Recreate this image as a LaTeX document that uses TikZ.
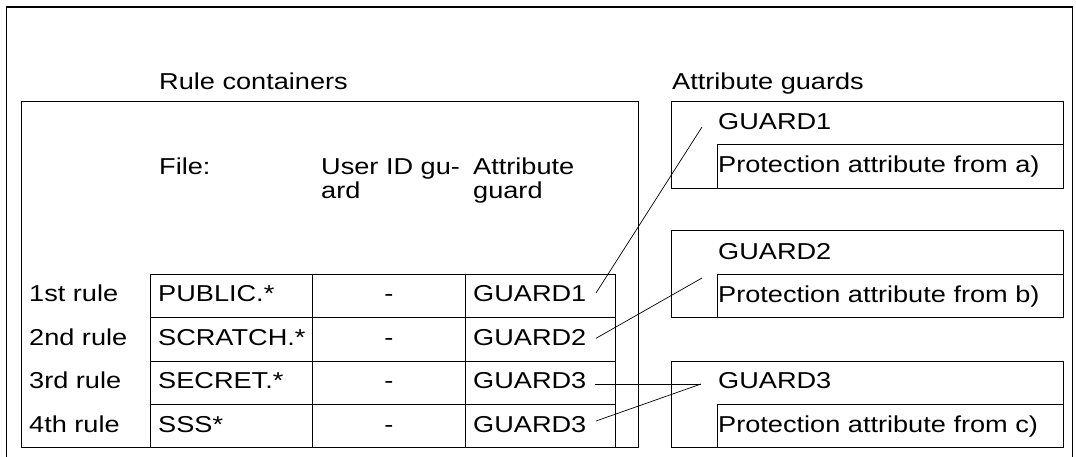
\documentclass[tikz,border=0pt]{standalone}
\usepackage{fontspec}
\setmainfont{Liberation Sans}[FakeStretch=1.18]
\begin{document}
\begin{tikzpicture}[x=1pt,y=-1pt,
  frame/.style={line width=1.5pt},
  box/.style={draw,line width=1pt},
  link/.style={line width=0.7pt},
  txt/.style={anchor=base west,inner sep=0pt,font=\fontsize{23}{26}\selectfont},
  ctxt/.style={txt,anchor=base}]
\useasboundingbox (0,0) rectangle (1076,457);

% outer frame (open at the bottom)
\draw[frame] (6.5,457) -- (6.5,7) -- (1072.3,7) -- (1072.3,457);

% rule container with its table
\draw[box] (21,101.7) rectangle (638.5,447.7);
\draw[box] (150,274) rectangle (615,447.7);
\foreach \r in {317.3,361,404.3} \draw[box] (150,\r) -- (615,\r);
\foreach \c in {312.7,465} \draw[box] (\c,274) -- (\c,447.7);

% attribute guard boxes
\foreach \t/\m/\b in {101.7/145/188.3, 231/274.3/317.3, 361/404.3/447.7}{
  \draw[box] (671.7,\t) rectangle (1063,\b);
  \draw[box] (717.4,\m) rectangle (1063,\b);
}

% titles
\node[txt] (rc) at (159,90) {Rule containers};
\node[txt] (ag) at (672,90) {Attribute guards};

% column headers
\node[txt] (hfile) at (159,175) {File:};
\node[txt] (huid) at (321,175) {User ID gu-};
\node[txt] (huid2) at (321,199) {ard};
\node[txt] (hag) at (473,175) {Attribute};
\node[txt] (hag2) at (473,199) {guard};

% rules
\node[txt] (l1) at (29,301.7) {1st rule};
\node[txt] (l2) at (29,345) {2nd rule};
\node[txt] (l3) at (29,388.7) {3rd rule};
\node[txt] (l4) at (29,432) {4th rule};

\node[txt] (f1) at (158,301.7) {PUBLIC.*};
\node[txt] (f2) at (158,345) {SCRATCH.*};
\node[txt] (f3) at (158,388.7) {SECRET.*};
\node[txt] (f4) at (158,432) {SSS*};

\node[ctxt] (u1) at (388.9,301.7) {-};
\node[ctxt] (u2) at (388.9,345) {-};
\node[ctxt] (u3) at (388.9,388.7) {-};
\node[ctxt] (u4) at (388.9,432) {-};

\node[txt] (g1) at (473,301.7) {GUARD1};
\node[txt] (g2) at (473,345) {GUARD2};
\node[txt] (g3) at (473,388.7) {GUARD3};
\node[txt] (g4) at (473,432) {GUARD3};

% guard definitions
\node[txt] (d1) at (718,129.4) {GUARD1};
\node[txt] (p1) at (718,172.7) {Protection attribute from a)};
\node[txt] (d2) at (718,259) {GUARD2};
\node[txt] (p2) at (718,302) {Protection attribute from b)};
\node[txt] (d3) at (718,388.7) {GUARD3};
\node[txt] (p3) at (718,432) {Protection attribute from c)};

% connector end points
\coordinate (s1) at (596,293);
\coordinate (e1) at (702,127);
\coordinate (s2) at (596,338.3);
\coordinate (e2) at (702,278);
\coordinate (s3) at (595,384);
\coordinate (e3) at (701,384);
\coordinate (s4) at (596,421);

\draw[link] (s1) -- (e1);
\draw[link] (s2) -- (e2);
\draw[link] (s3) -- (e3);
\draw[link] (s4) -- (e3);
\end{tikzpicture}
\end{document}
